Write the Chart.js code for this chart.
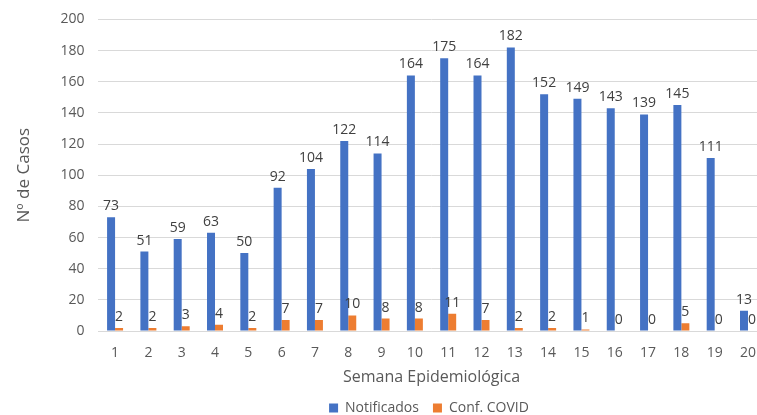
<!DOCTYPE html>
<html><head><meta charset="utf-8">
<script src="https://cdn.jsdelivr.net/npm/chart.js@4/dist/chart.umd.min.js"></script>
<style>html,body{margin:0;padding:0;overflow:hidden;background:#fff;width:757px;height:415px}#wrap{width:770px;height:428px;margin-top:-3px}</style>
</head><body><div id="wrap"><canvas id="c" width="770" height="428"></canvas></div>
<script>
const categories = ["1","2","3","4","5","6","7","8","9","10","11","12","13","14","15","16","17","18","19","20"];
const notificados = [73,51,59,63,50,92,104,122,114,164,175,164,182,152,149,143,139,145,111,13];
const confCovid = [2,2,3,4,2,7,7,10,8,8,11,7,2,2,1,0,0,5,0,0];
const yTicks = {min:0,max:200,step:20};
const FONT = "'Open Sans', sans-serif";

const labelPlugin = {
  id:'labels',
  afterDatasetsDraw(chart){
    const ctx = chart.ctx;
    ctx.save();
    ctx.font = "14px " + FONT;
    ctx.fillStyle = '#404040';
    ctx.textAlign = 'center';
    ctx.textBaseline = 'bottom';
    chart.data.datasets.forEach((ds,i)=>{
      chart.getDatasetMeta(i).data.forEach((el,j)=>{
        ctx.fillText(String(ds.data[j]), el.x, el.y - 4);
      });
    });
    ctx.restore();
  }
};
const legendShift = {
  id:'legendShift',
  afterLayout(chart){ chart.legend.left += 37; chart.legend.right += 37; }
};

new Chart(document.getElementById('c'),{
  type:'bar',
  data:{labels:categories,datasets:[
    {label:'Notificados',data:notificados,backgroundColor:'#4472C4',categoryPercentage:0.48,barPercentage:1},
    {label:'Conf. COVID',data:confCovid,backgroundColor:'#ED7D31',categoryPercentage:0.48,barPercentage:1}
  ]},
  options:{
    responsive:false,animation:false,devicePixelRatio:1,
    layout:{padding:{top:0,left:14,right:0,bottom:0}},
    plugins:{
      legend:{position:'bottom',labels:{font:{family:FONT,size:14},color:'#595959',usePointStyle:true,pointStyle:'rect',boxWidth:9,boxHeight:9,padding:14}},
      tooltip:{enabled:false}
    },
    scales:{
      x:{grid:{display:false,drawTicks:false},border:{color:'#D9D9D9'},
        ticks:{font:{family:FONT,size:14},color:'#595959',padding:14,maxRotation:0,autoSkip:false},
        title:{display:true,text:'Semana Epidemiológica',font:{family:FONT,size:16},color:'#595959',padding:{top:-8,bottom:0}}},
      y:{min:yTicks.min,max:yTicks.max,grid:{color:'#D9D9D9',drawTicks:false},border:{display:false},
        ticks:{stepSize:yTicks.step,font:{family:FONT,size:14},color:'#595959',padding:14},
        title:{display:true,text:'Nº de Casos',font:{family:FONT,size:17},color:'#595959',padding:{top:0,bottom:12}}}
    }
  },
  plugins:[labelPlugin,legendShift]
});
</script></body></html>
